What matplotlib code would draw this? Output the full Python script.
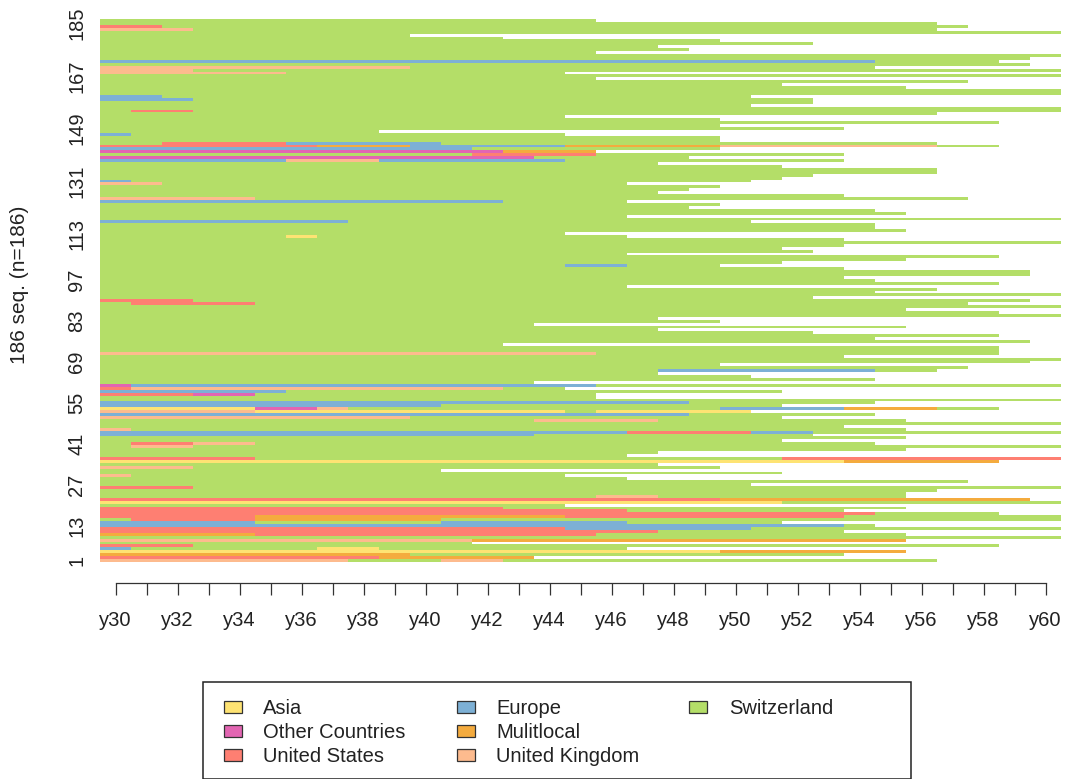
import matplotlib
matplotlib.use('Agg')
import matplotlib.pyplot as plt
import numpy as np
from matplotlib.patches import Rectangle

plt.rcParams['font.family'] = ['Liberation Sans', 'DejaVu Sans']

# years observed per sequence, sequence 1 first
seq_length = [
    27, 14, 24, 26, 17, 29, 12, 26, 31, 26,
    24, 31, 25, 22, 31, 31, 29, 24, 26, 15,
    31, 30, 26, 26, 27, 31, 21, 28, 17, 15,
    22, 11, 20, 18, 29, 31, 17, 18, 26, 31,
    25, 22, 26, 23, 31, 26, 24, 31, 26, 22,
    25, 21, 29, 22, 25, 31, 16, 16, 22, 15,
    31, 14, 25, 21, 18, 27, 28, 20, 30, 31,
    24, 29, 29, 29, 13, 30, 25, 29, 23, 18,
    26, 14, 20, 18, 31, 29, 26, 31, 28, 30,
    23, 31, 25, 27, 17, 29, 25, 24, 30, 30,
    24, 20, 22, 26, 29, 17, 23, 22, 24, 31,
    24, 17, 15, 26, 25, 25, 21, 31, 17, 26,
    25, 19, 20, 17, 28, 24, 18, 19, 20, 17,
    21, 22, 23, 27, 27, 22, 18, 24, 19, 24,
    16, 20, 29, 27, 20, 20, 15, 9, 24, 20,
    29, 20, 15, 27, 31, 31, 21, 23, 23, 21,
    31, 31, 26, 22, 28, 16, 31, 15, 31, 25,
    30, 29, 30, 31, 16, 19, 18, 23, 20, 13,
    10, 31, 27, 28, 27, 16,
]

# spells abroad: (sequence, first year offset, end year offset), offsets from y30
asia = [(4, 0, 20), (5, 7, 9), (21, 0, 22), (35, 0, 24), (52, 5, 15), (52, 16, 21),
        (53, 0, 5), (112, 6, 7)]
other_countries = [(53, 5, 7), (58, 3, 5), (61, 0, 1), (139, 0, 14), (141, 0, 13)]
united_states = [(2, 0, 9), (6, 0, 3), (10, 5, 16), (11, 0, 18), (12, 0, 15), (15, 1, 5),
                 (16, 0, 5), (16, 15, 24), (17, 0, 25), (18, 0, 17), (19, 0, 13), (22, 0, 20),
                 (26, 0, 3), (36, 0, 5), (36, 22, 31), (41, 1, 3), (45, 17, 21), (58, 0, 3),
                 (60, 0, 1), (89, 1, 5), (90, 0, 3), (140, 12, 16), (143, 0, 7), (144, 2, 6),
                 (155, 1, 3), (184, 0, 2)]
europe = [(5, 0, 1), (12, 15, 21), (13, 0, 24), (14, 0, 5), (14, 11, 17), (44, 0, 14),
          (45, 0, 17), (45, 21, 23), (51, 0, 19), (53, 20, 24), (54, 0, 11), (55, 0, 19),
          (59, 0, 6), (61, 1, 16), (66, 18, 25), (102, 15, 17), (117, 0, 8), (124, 0, 13),
          (131, 0, 1), (138, 0, 6), (138, 9, 15), (142, 0, 12), (143, 10, 15), (144, 6, 11),
          (147, 0, 1), (159, 0, 3), (160, 0, 2), (172, 0, 25)]
multilocal = [(2, 9, 14), (3, 0, 10), (4, 20, 26), (8, 12, 26), (10, 0, 5), (15, 5, 11),
              (16, 5, 15), (22, 20, 30), (35, 24, 29), (53, 24, 27), (141, 13, 16),
              (143, 7, 10), (143, 15, 20)]
united_kingdom = [(1, 0, 8), (1, 11, 13), (8, 0, 12), (23, 16, 18), (30, 0, 1), (33, 0, 3),
                  (40, 1, 3), (41, 3, 5), (46, 0, 1), (49, 14, 18), (50, 0, 10), (52, 0, 5),
                  (53, 7, 8), (60, 1, 13), (72, 0, 16), (125, 0, 5), (130, 0, 2), (138, 6, 9),
                  (143, 20, 27), (168, 0, 6), (169, 0, 3), (170, 0, 10), (183, 0, 3)]

year_offsets = list(range(31))
year_labels = [f'y{30 + i}' if i % 2 == 0 else '' for i in year_offsets]
seq_ticks = [1, 13, 27, 41, 55, 69, 83, 97, 113, 131, 149, 167, 185]

col_asia = '#FEE373'
col_other = '#E265B2'
col_us = '#FE7F72'
col_europe = '#7DB0D5'
col_multi = '#F4AB3E'
col_uk = '#FDBB8E'
col_swiss = '#B4DE68'

W, H = 1070, 779
fig = plt.figure(figsize = (W / 100, H / 100), dpi = 100)

# plot area in pixels: x 100-1061, y 19-562
ax = fig.add_axes([100 / W, 1 - 562 / H, 961 / W, 543 / H])

seq = np.arange(1, len(seq_length) + 1)
ax.barh(seq, seq_length, left = -0.5, height = 1, color = col_swiss, linewidth = 0)

spell_groups = [(asia, col_asia), (other_countries, col_other), (united_states, col_us),
                (europe, col_europe), (multilocal, col_multi), (united_kingdom, col_uk)]
for spells, col in spell_groups:
    rows = [s[0] for s in spells]
    starts = np.array([s[1] for s in spells])
    stops = np.array([s[2] for s in spells])
    ax.barh(rows, stops - starts, left = starts - 0.5, height = 1, color = col, linewidth = 0)

ax.set_xlim(-0.5, 30.5)
ax.set_ylim(0.5, 186.5)

for s in ['top', 'right', 'left']:
    ax.spines[s].set_visible(False)
ax.spines['bottom'].set_position(('outward', 15))
ax.spines['bottom'].set_bounds(0, 30)
ax.spines['bottom'].set_color('#333333')
ax.spines['bottom'].set_linewidth(0.9)

ax.set_xticks(year_offsets)
ax.set_xticklabels(year_labels, fontsize = 14.5, color = '#222222')
ax.tick_params(axis = 'x', length = 8.5, width = 0.9, color = '#333333', pad = 11.5)

ax.set_yticks(seq_ticks)
ax.set_yticklabels(seq_ticks, fontsize = 14.5, rotation = 90, va = 'center', color = '#222222')
ax.tick_params(axis = 'y', length = 0, pad = 10)

fig.text(20 / W, 1 - 285 / H, '186 seq. (n=186)', rotation = 90, ha = 'center', va = 'center',
         fontsize = 15, color = '#222222')

# legend box, drawn in pixel coordinates
leg = fig.add_axes([0, 0, 1, 1], facecolor = 'none')
leg.set_xlim(0, W)
leg.set_ylim(H, 0)
leg.axis('off')
leg.add_patch(Rectangle((202.5, 682), 708.5, 96.5, fill = False, edgecolor = '#222222', linewidth = 1.1))

leg_names = ['Asia', 'Other Countries', 'United States', 'Europe', 'Mulitlocal',
             'United Kingdom', 'Switzerland']
leg_cols = [col_asia, col_other, col_us, col_europe, col_multi, col_uk, col_swiss]
for i, (name, col) in enumerate(zip(leg_names, leg_cols)):
    c, r = i // 3, i % 3
    px = [224, 456.5, 689][c]
    tx = [263, 496.5, 729][c]
    py = 701 + r * 24
    leg.add_patch(Rectangle((px, py), 18, 12, facecolor = col, edgecolor = '#333333', linewidth = 0.9))
    leg.text(tx, py + 7, name, fontsize = 14.5, va = 'center', ha = 'left', color = '#222222')

fig.savefig('out.png', dpi = 100)
